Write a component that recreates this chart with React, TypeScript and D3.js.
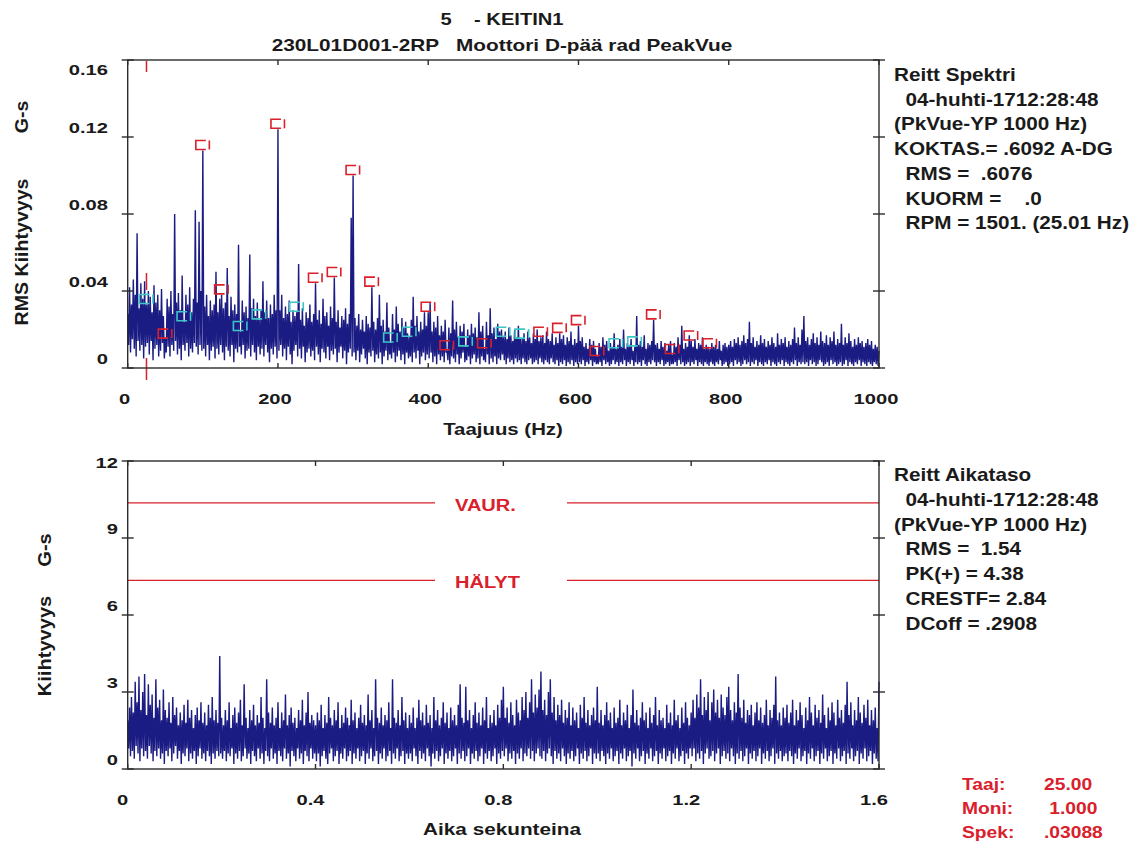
import React from "react";
import * as d3 from "d3";

// ---- spectrum, milli G-s, one value every 1.25 Hz (100 Hz per band)
const specBand0 = [28, 12, 42, 8, 33, 15, 46, 10, 38, 6, 70, 14, 31, 9, 44, 12, 36, 5, 45, 11, 33, 13, 40, 7, 37, 14, 29, 4, 43, 10, 34, 12, 38, 6, 30, 9, 41, 13, 27, 5, 15, 8, 36, 11, 32, 6, 40, 12, 28, 9, 80, 14, 34, 7, 39, 10, 30, 4, 48, 12, 24, 9, 38, 13, 33, 6, 42, 10, 29, 8, 36, 13, 82, 11, 34, 7, 76, 12, 40, 9];
const specBand1 = [113, 10, 32, 6, 38, 12, 27, 4, 35, 9, 30, 11, 33, 5, 50, 10, 29, 7, 36, 12, 38, 8, 31, 4, 34, 11, 52, 9, 27, 6, 37, 12, 30, 3, 33, 10, 28, 8, 64, 11, 19, 7, 35, 12, 29, 5, 32, 9, 26, 10, 59, 6, 31, 12, 36, 8, 27, 4, 34, 11, 25, 7, 30, 10, 45, 6, 29, 12, 35, 8, 26, 3, 33, 10, 28, 7, 38, 11, 30, 5];
const specBand2 = [124, 9, 30, 12, 38, 6, 26, 10, 32, 4, 28, 11, 35, 7, 24, 2, 30, 9, 27, 12, 29, 6, 54, 10, 25, 5, 31, 11, 22, 3, 29, 8, 26, 10, 33, 6, 24, 9, 28, 4, 44, 11, 25, 7, 30, 3, 23, 10, 36, 8, 27, 5, 29, 11, 22, 4, 32, 9, 26, 7, 47, 10, 24, 3, 30, 8, 21, 11, 27, 5, 25, 9, 31, 2, 23, 8, 28, 10, 78, 6];
const specBand3 = [100, 8, 26, 4, 22, 9, 28, 3, 20, 7, 25, 10, 19, 5, 27, 2, 23, 8, 21, 6, 42, 9, 24, 3, 20, 7, 26, 5, 38, 8, 22, 2, 25, 6, 19, 9, 34, 4, 21, 7, 13, 5, 28, 8, 20, 3, 32, 6, 23, 9, 19, 4, 26, 7, 21, 2, 24, 8, 18, 5, 16, 6, 25, 3, 37, 8, 22, 5, 27, 9, 19, 2, 24, 6, 20, 8, 29, 4, 22, 7];
const specBand4 = [29, 5, 34, 8, 19, 3, 24, 6, 21, 2, 27, 7, 17, 4, 22, 6, 19, 3, 25, 8, 9, 4, 21, 2, 18, 6, 35, 5, 20, 3, 24, 7, 16, 2, 22, 5, 19, 8, 23, 3, 11, 4, 20, 6, 17, 2, 23, 5, 18, 7, 21, 3, 16, 5, 29, 2, 19, 6, 22, 4, 10, 3, 24, 7, 17, 2, 31, 5, 18, 3, 21, 6, 15, 2, 23, 5, 19, 4, 20, 7];
const specBand5 = [16, 4, 19, 2, 15, 5, 21, 3, 17, 4, 14, 2, 20, 5, 16, 3, 22, 4, 15, 2, 15, 5, 18, 3, 14, 2, 19, 4, 16, 5, 13, 2, 18, 3, 15, 4, 20, 2, 14, 5, 16, 3, 17, 2, 13, 4, 19, 3, 15, 2, 14, 5, 18, 3, 12, 2, 16, 4, 13, 1, 18, 3, 15, 2, 17, 4, 12, 1, 16, 3, 14, 2, 19, 4, 12, 1, 15, 3, 13, 2];
const specBand6 = [22, 3, 14, 2, 16, 4, 11, 1, 13, 3, 10, 2, 15, 4, 12, 1, 14, 3, 10, 2, 6, 2, 13, 3, 11, 1, 16, 4, 12, 2, 14, 3, 9, 1, 13, 2, 11, 4, 18, 2, 10, 3, 12, 1, 15, 3, 11, 2, 20, 4, 10, 1, 13, 3, 12, 2, 15, 4, 9, 1, 11, 3, 27, 2, 12, 3, 14, 1, 11, 4, 17, 2, 10, 1, 13, 3, 12, 2, 14, 4];
const specBand7 = [25, 3, 12, 1, 13, 3, 10, 2, 14, 4, 11, 1, 13, 2, 9, 3, 12, 1, 14, 2, 7, 2, 13, 3, 11, 1, 16, 4, 12, 2, 22, 3, 10, 1, 13, 2, 11, 3, 17, 1, 14, 3, 11, 2, 15, 4, 10, 1, 13, 3, 12, 2, 16, 1, 10, 3, 12, 2, 11, 1, 10, 3, 13, 2, 11, 1, 12, 3, 10, 2, 14, 4, 9, 1, 12, 2, 13, 3, 11, 1];
const specBand8 = [12, 2, 14, 3, 11, 1, 15, 4, 13, 2, 16, 3, 12, 1, 14, 2, 17, 4, 13, 2, 15, 3, 24, 1, 13, 3, 16, 2, 11, 4, 14, 1, 12, 3, 17, 2, 13, 1, 15, 3, 11, 2, 14, 4, 12, 1, 16, 3, 13, 2, 11, 1, 18, 3, 12, 2, 15, 4, 13, 1, 16, 3, 11, 2, 14, 1, 12, 3, 15, 2, 21, 4, 13, 1, 16, 3, 12, 2, 20, 3];
const specBand9 = [27, 2, 14, 3, 16, 1, 12, 4, 15, 2, 18, 3, 13, 1, 16, 2, 12, 4, 19, 3, 14, 1, 13, 2, 17, 3, 12, 1, 16, 4, 14, 2, 19, 3, 12, 1, 15, 2, 13, 3, 23, 1, 12, 2, 16, 4, 13, 1, 18, 3, 14, 2, 11, 1, 15, 3, 12, 2, 16, 4, 13, 1, 14, 3, 11, 2, 13, 1, 15, 3, 12, 2, 14, 1, 10, 3, 12, 2, 11, 1, 9];
const specStepHz = 1.25;

// harmonics of running speed marked on the spectrum (r = red, c = cyan)
const runHz = 25.01;
const harmonicColors = ["c", "r", "c", "r", "r", "c", "c", "r", "c", "r", "r", "r", "r", "c", "c", "r", "r", "c", "r", "c", "c", "r", "r", "r", "r", "c", "c", "r", "r", "r", "r"];
const cursorHz = 25;

// ---- time waveform, tenths of G-s, one value every 2 ms (0.2 s per segment)
const waveSeg0 = [19, 8, 24, 5, 28, 7, 22, 4, 34, 9, 26, 6, 36, 3, 23, 8, 30, 5, 37, 7, 21, 4, 33, 9, 25, 6, 29, 3, 20, 7, 35, 5, 24, 8, 27, 4, 19, 6, 31, 2, 23, 7, 20, 5, 26, 8, 18, 3, 28, 6, 21, 9, 24, 4, 17, 7, 22, 2, 19, 6, 25, 5, 18, 8, 27, 3, 20, 6, 23, 4, 16, 7, 21, 2, 24, 5, 19, 8, 26, 4, 18, 6, 22, 3, 17, 7, 25, 5, 20, 2, 28, 6, 19, 4, 23, 7, 18, 5, 44, 6];
const waveSeg1 = [20, 4, 17, 7, 23, 3, 19, 6, 26, 5, 16, 8, 21, 2, 24, 6, 18, 4, 22, 7, 27, 3, 17, 5, 33, 8, 20, 4, 16, 6, 23, 2, 19, 7, 25, 5, 17, 3, 21, 8, 18, 4, 28, 6, 20, 2, 16, 7, 35, 5, 22, 3, 18, 8, 24, 4, 17, 6, 20, 2, 26, 7, 16, 5, 22, 3, 19, 8, 29, 4, 17, 6, 21, 1, 24, 7, 18, 5, 20, 3, 16, 8, 23, 4, 19, 6, 27, 2, 17, 7, 22, 5, 30, 3, 18, 8, 21, 4, 19, 6];
const waveSeg2 = [17, 3, 22, 6, 19, 1, 25, 5, 16, 7, 21, 4, 18, 2, 28, 6, 20, 8, 17, 3, 23, 5, 19, 7, 26, 2, 16, 6, 21, 4, 18, 8, 24, 3, 20, 5, 17, 7, 27, 2, 19, 6, 22, 4, 16, 8, 20, 3, 25, 5, 18, 7, 21, 2, 17, 6, 29, 4, 19, 8, 23, 3, 16, 5, 35, 7, 20, 2, 18, 6, 24, 4, 17, 8, 21, 3, 19, 5, 26, 7, 16, 2, 35, 6, 20, 4, 18, 8, 23, 3, 17, 5, 28, 7, 19, 2, 22, 6, 16, 4];
const waveSeg3 = [21, 6, 18, 3, 24, 8, 16, 5, 20, 2, 27, 7, 19, 4, 22, 6, 17, 3, 25, 8, 18, 5, 21, 1, 16, 6, 28, 4, 19, 7, 23, 3, 17, 5, 20, 8, 26, 2, 18, 6, 22, 4, 16, 7, 24, 3, 19, 5, 21, 8, 17, 2, 25, 6, 33, 4, 20, 7, 18, 3, 32, 5, 19, 8, 23, 2, 16, 6, 21, 4, 26, 7, 18, 3, 22, 5, 17, 8, 24, 2, 19, 6, 28, 4, 16, 7, 21, 3, 18, 5, 23, 8, 17, 2, 25, 6, 20, 4, 27, 7];
const waveSeg4 = [32, 5, 20, 8, 24, 3, 18, 6, 26, 4, 21, 7, 17, 2, 27, 6, 22, 4, 19, 8, 28, 3, 23, 6, 30, 5, 20, 8, 26, 4, 35, 7, 22, 3, 29, 6, 24, 8, 31, 5, 38, 4, 23, 7, 27, 3, 21, 6, 30, 8, 35, 5, 22, 2, 28, 7, 19, 4, 25, 6, 21, 3, 27, 8, 18, 5, 23, 2, 20, 6, 26, 4, 17, 7, 24, 3, 19, 5, 22, 8, 16, 2, 25, 6, 20, 4, 28, 7, 18, 3, 23, 5, 17, 8, 21, 2, 24, 6, 19, 4];
const waveSeg5 = [32, 6, 18, 3, 23, 7, 17, 5, 21, 2, 26, 6, 19, 4, 22, 8, 16, 3, 24, 5, 18, 7, 20, 2, 27, 6, 17, 4, 22, 8, 19, 3, 25, 5, 16, 7, 21, 1, 31, 6, 18, 4, 23, 8, 17, 3, 20, 5, 26, 7, 19, 2, 22, 6, 16, 4, 24, 8, 18, 3, 21, 5, 28, 7, 17, 2, 23, 6, 19, 4, 20, 8, 16, 3, 25, 5, 18, 7, 22, 2, 17, 6, 27, 4, 19, 8, 21, 3, 16, 5, 24, 7, 18, 2, 26, 6, 20, 4, 17, 8];
const waveSeg6 = [22, 5, 27, 8, 20, 3, 29, 6, 24, 4, 35, 7, 21, 2, 28, 6, 23, 8, 30, 4, 19, 5, 26, 7, 31, 3, 22, 6, 27, 8, 20, 2, 29, 5, 24, 7, 21, 4, 28, 6, 32, 3, 23, 8, 19, 5, 26, 2, 22, 6, 37, 4, 24, 7, 20, 3, 27, 5, 18, 8, 23, 2, 21, 6, 25, 4, 17, 7, 22, 3, 26, 5, 19, 8, 24, 2, 18, 6, 21, 4, 27, 7, 17, 3, 23, 5, 20, 8, 25, 2, 36, 6, 19, 4, 22, 7, 17, 3, 24, 5];
const waveSeg7 = [20, 6, 25, 3, 18, 7, 22, 5, 27, 2, 17, 6, 23, 4, 19, 8, 26, 3, 21, 5, 16, 7, 24, 2, 19, 6, 28, 4, 22, 8, 17, 3, 25, 5, 20, 7, 23, 2, 18, 6, 29, 4, 21, 8, 16, 3, 24, 5, 19, 7, 26, 2, 22, 6, 17, 4, 27, 8, 20, 3, 23, 5, 18, 7, 25, 2, 34, 6, 21, 4, 26, 8, 17, 3, 23, 5, 19, 7, 28, 2, 22, 6, 18, 4, 25, 8, 20, 3, 27, 5, 17, 7, 23, 2, 19, 6, 24, 4, 16, 3, 34];
const waveStepS = 0.002;

const alarms = [
  { label: "VAUR.", value: 10.37 },
  { label: "HÄLYT", value: 7.35 },
];

// ---- ticks and texts
const specXTicks = [0, 200, 400, 600, 800, 1000];
const specYTicks = [0, 0.04, 0.08, 0.12, 0.16];
const specYLabels = ["0", "0.04", "0.08", "0.12", "0.16"];
const timeXTicks = [0, 0.4, 0.8, 1.2, 1.6];
const timeXLabels = ["0", "0.4", "0.8", "1.2", "1.6"];
const timeYTicks = [0, 3, 6, 9, 12];

const titleLines = ["5    - KEITIN1", "230L01D001-2RP   Moottori D-pää rad PeakVue"];
const spectrumInfo = [
  "Reitt Spektri",
  "  04-huhti-1712:28:48",
  "(PkVue-YP 1000 Hz)",
  "KOKTAS.= .6092 A-DG",
  "  RMS =  .6076",
  "  KUORM =    .0",
  "  RPM = 1501. (25.01 Hz)",
];
const waveInfo = [
  "Reitt Aikataso",
  "  04-huhti-1712:28:48",
  "(PkVue-YP 1000 Hz)",
  "  RMS =  1.54",
  "  PK(+) = 4.38",
  "  CRESTF= 2.84",
  "  DCoff = .2908",
];
const cursorNames = ["Taaj:", "Moni:", "Spek:"];
const cursorValues = ["25.00", " 1.000", ".03088"];

const INK = "#1a1a1a";
const NAVY = "#1b1b84";
const RED = "#d9202b";
const CYAN = "#3cc6c6";
const FONT = "'Liberation Sans', Arial, sans-serif";

const T = ({ x, y, size = 17, sx = 1.2, anchor = "start", fill = INK, rot = 0, children }: any) => (
  <text
    transform={`translate(${x},${y}) rotate(${rot}) scale(${sx},1)`}
    fontSize={size}
    textAnchor={anchor}
    fill={fill}
    fontFamily={FONT}
    fontWeight="bold"
    style={{ whiteSpace: "pre" }}
  >
    {children}
  </text>
);

const Frame = ({ x, y, xTicks, yTicks }: any) => {
  const [x0, x1] = x.range();
  const [y0, y1] = y.range();
  return (
    <g stroke="#2b2b2b" strokeWidth={1.4} fill="none">
      <rect x={x0} y={y1} width={x1 - x0} height={y0 - y1} />
      {yTicks.map((t: number) => (
        <g key={"y" + t}>
          <line x1={x0 - 6} x2={x0 + 6} y1={y(t)} y2={y(t)} />
          <line x1={x1 - 6} x2={x1 + 6} y1={y(t)} y2={y(t)} />
        </g>
      ))}
      {xTicks.map((t: number) => (
        <g key={"x" + t}>
          <line x1={x(t)} x2={x(t)} y1={y1} y2={y1 + 5} />
          <line x1={x(t)} x2={x(t)} y1={y0 - 5} y2={y0} />
        </g>
      ))}
    </g>
  );
};

export default function App() {
  const spectrum = [
    ...specBand0, ...specBand1, ...specBand2, ...specBand3, ...specBand4,
    ...specBand5, ...specBand6, ...specBand7, ...specBand8, ...specBand9,
  ].map((v, i) => ({ hz: i * specStepHz, g: v / 1000 }));
  const wave = [
    ...waveSeg0, ...waveSeg1, ...waveSeg2, ...waveSeg3,
    ...waveSeg4, ...waveSeg5, ...waveSeg6, ...waveSeg7,
  ].map((v, i) => ({ t: i * waveStepS, g: v / 10 }));

  const xs = d3.scaleLinear().domain([0, 1000]).range([127.7, 879]);
  const ys = d3.scaleLinear().domain([0, 0.16]).range([368, 60]);
  const xt = d3.scaleLinear().domain([0, 1.6]).range([127.7, 879]);
  const yt = d3.scaleLinear().domain([0, 12]).range([769, 461]);

  const specLine = d3.line<any>().x((d) => xs(d.hz)).y((d) => ys(d.g));
  const waveLine = d3.line<any>().x((d) => xt(d.t)).y((d) => yt(d.g));

  const markers = harmonicColors.map((c, k) => {
    const idx = Math.round(((k + 1) * runHz) / specStepHz);
    const p = spectrum[idx];
    return { x: xs(p.hz), y: ys(p.g), color: c === "r" ? RED : CYAN };
  });
  const cx = xs(cursorHz);

  return (
    <svg width={1142} height={848} style={{ position: "absolute", left: 0, top: 0, background: "#fff" }}>
      {/* titles */}
      <T x={502} y={25} size={16.5} sx={1.22} anchor="middle">{titleLines[0]}</T>
      <T x={502} y={51} size={16.5} sx={1.26} anchor="middle">{titleLines[1]}</T>

      {/* ---------- spectrum ---------- */}
      <path d={specLine(spectrum) || ""} fill="none" stroke={NAVY} strokeWidth={1.4} strokeLinejoin="miter" strokeMiterlimit={2} />
      {markers.map((m, i) => (
        <g key={i} stroke={m.color} strokeWidth={1.6} fill="none">
          <path d={`M${m.x + 3},${m.y - 10}H${m.x - 7}V${m.y - 1}H${m.x + 3}`} />
          <line x1={m.x + 6.5} x2={m.x + 6.5} y1={m.y - 10} y2={m.y - 1} />
        </g>
      ))}
      <g stroke={RED} strokeWidth={1.5}>
        <line x1={cx} x2={cx} y1={61} y2={72} />
        <line x1={cx} x2={cx} y1={273} y2={290} />
        <line x1={cx} x2={cx} y1={358} y2={380} />
      </g>
      <Frame x={xs} y={ys} xTicks={specXTicks} yTicks={specYTicks} />
      {specYTicks.map((t, i) => (
        <T key={t} x={108} y={i === specYTicks.length - 1 ? ys(t) + 15 : ys(t) - 4} size={15.5} sx={1.3} anchor="end">
          {specYLabels[i]}
        </T>
      ))}
      {specXTicks.map((t) => (
        <T key={t} x={xs(t) - 3} y={404} size={15.5} sx={1.3} anchor="middle">{String(t)}</T>
      ))}
      <T x={503} y={435} size={17} sx={1.2} anchor="middle">Taajuus (Hz)</T>
      <T x={28} y={252} size={17.5} sx={1.12} anchor="middle" rot={-90}>RMS Kiihtyvyys</T>
      <T x={28} y={117} size={17.5} sx={1.12} anchor="middle" rot={-90}>G-s</T>
      {spectrumInfo.map((s, i) => (
        <T key={i} x={894} y={81 + i * 24.7} size={18} sx={1.15}>{s}</T>
      ))}

      {/* ---------- waveform ---------- */}
      {alarms.map((a) => (
        <g key={a.label}>
          <g stroke={RED} strokeWidth={1.4}>
            <line x1={xt(0)} x2={435} y1={yt(a.value)} y2={yt(a.value)} />
            <line x1={567} x2={xt(1.6)} y1={yt(a.value)} y2={yt(a.value)} />
          </g>
          <T x={455} y={yt(a.value) + 8} size={17} sx={1.18} fill={RED}>{a.label}</T>
        </g>
      ))}
      <path d={waveLine(wave) || ""} fill="none" stroke={NAVY} strokeWidth={1.4} strokeLinejoin="miter" strokeMiterlimit={2} />
      <Frame x={xt} y={yt} xTicks={timeXTicks} yTicks={timeYTicks} />
      {timeYTicks.map((t, i) => (
        <T key={t} x={118} y={i === timeYTicks.length - 1 ? yt(t) + 7 : yt(t) - 4} size={15.5} sx={1.3} anchor="end">
          {String(t)}
        </T>
      ))}
      {timeXTicks.map((t, i) => (
        <T key={t} x={xt(t) - 5} y={805} size={15.5} sx={1.3} anchor="middle">{timeXLabels[i]}</T>
      ))}
      <T x={502} y={835} size={17} sx={1.22} anchor="middle">Aika sekunteina</T>
      <T x={51} y={646} size={17.5} sx={1.15} anchor="middle" rot={-90}>Kiihtyvyys</T>
      <T x={51} y={550} size={17.5} sx={1.15} anchor="middle" rot={-90}>G-s</T>
      {waveInfo.map((s, i) => (
        <T key={i} x={894} y={481 + i * 24.8} size={18} sx={1.15}>{s}</T>
      ))}

      {/* cursor readout */}
      {cursorNames.map((s, i) => (
        <g key={s}>
          <T x={962} y={790 + i * 24} size={16.3} sx={1.18} fill={RED}>{s}</T>
          <T x={1044} y={790 + i * 24} size={16.3} sx={1.18} fill={RED}>{cursorValues[i]}</T>
        </g>
      ))}
    </svg>
  );
}
